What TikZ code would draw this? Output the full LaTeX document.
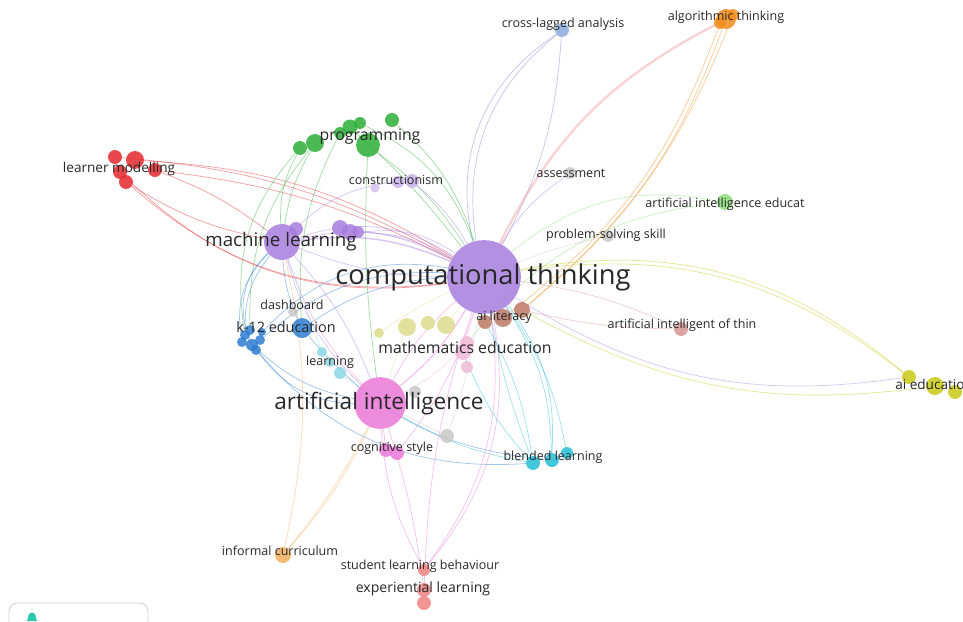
\documentclass[tikz,border=0pt]{standalone}
\usepackage{fontspec}
\setmainfont{Open Sans}
\usetikzlibrary{positioning}
\pgfdeclarelayer{edges}
\pgfsetlayers{edges,main}
\definecolor{cPurple}{RGB}{168,125,222}
\definecolor{cPink}{RGB}{235,120,215}
\definecolor{cRed}{RGB}{228,40,45}
\definecolor{cGreen}{RGB}{45,175,55}
\definecolor{cBlue}{RGB}{45,125,210}
\definecolor{cCyan}{RGB}{35,190,215}
\definecolor{cLcyan}{RGB}{140,215,230}
\definecolor{cLyellow}{RGB}{220,220,140}
\definecolor{cYellow}{RGB}{200,200,20}
\definecolor{cBrown}{RGB}{190,120,100}
\definecolor{cLpink}{RGB}{240,185,215}
\definecolor{cGrey}{RGB}{200,200,200}
\definecolor{cLblue}{RGB}{140,170,222}
\definecolor{cOrange}{RGB}{242,140,30}
\definecolor{cLorange}{RGB}{240,175,95}
\definecolor{cLgreen}{RGB}{140,220,120}
\definecolor{cRose}{RGB}{212,150,150}
\definecolor{cSalmon}{RGB}{240,130,130}
\definecolor{cTxt}{RGB}{40,40,40}
\definecolor{cTeal}{RGB}{40,200,170}
\tikzstyle{kw} = [circle, inner sep=0pt, fill opacity=0.85]
\tikzstyle{dia} = [minimum size=#1*0.85pt]
\tikzstyle{link} = [line width=0.6pt, draw opacity=0.45]
\tikzstyle{term} = [inner sep=0pt, text=cTxt, font=\fontsize{10.7}{11}\selectfont]
\tikzstyle{termbig} = [inner sep=0pt, text=cTxt, font=\fontsize{13.5}{14}\selectfont]

\begin{document}
\begin{tikzpicture}[x=0.03cm, y=-0.03cm]
\useasboundingbox (0,0) rectangle (963,621);
% purple cluster
\node[kw, fill=cPurple, dia=74] (ct) at (484,277) {};
\node[kw, fill=cPurple, dia=36] (ml) at (282,242) {};
\node[kw, fill=cPurple, dia=14] (ml2) at (296,229) {};
\node[kw, fill=cPurple, dia=16] (mlb) at (340,228) {};
\node[kw, fill=cPurple, dia=16] (mlc) at (350,232) {};
\node[kw, fill=cPurple, dia=12] (mld) at (358,232) {};
\node[kw, fill=cPurple!60, dia=14] (cons) at (412,181) {};
\node[kw, fill=cPurple!60, dia=12] (cons2) at (398,182) {};
\node[kw, fill=cPurple!50, dia=9] (cons3) at (375,188) {};
% pink cluster
\node[kw, fill=cPink, dia=52] (ai) at (380,403) {};
\node[kw, fill=cPink, dia=14] (cog) at (386,450) {};
\node[kw, fill=cPink, dia=14] (cog2) at (397,453) {};
% red cluster
\node[kw, fill=cRed, dia=14] (lm1) at (115,157) {};
\node[kw, fill=cRed, dia=18] (lm2) at (135,160) {};
\node[kw, fill=cRed, dia=14] (lm3) at (120,172) {};
\node[kw, fill=cRed, dia=14] (lm4) at (126,182) {};
\node[kw, fill=cRed, dia=14] (lm5) at (155,170) {};
% green cluster
\node[kw, fill=cGreen, dia=14] (pr1) at (300,148) {};
\node[kw, fill=cGreen, dia=18] (pr2) at (315,143) {};
\node[kw, fill=cGreen, dia=12] (pr3) at (340,133) {};
\node[kw, fill=cGreen, dia=15] (pr4) at (350,127) {};
\node[kw, fill=cGreen, dia=12] (pr5) at (360,123) {};
\node[kw, fill=cGreen, dia=24] (pr6) at (368,145) {};
\node[kw, fill=cGreen, dia=14] (pr7) at (392,120) {};
% blue cluster
\node[kw, fill=cBlue, dia=10] (k1) at (245,335) {};
\node[kw, fill=cBlue, dia=12] (k2) at (252,345) {};
\node[kw, fill=cBlue, dia=10] (k3) at (260,340) {};
\node[kw, fill=cBlue, dia=10] (k4) at (250,330) {};
\node[kw, fill=cBlue, dia=8] (k5) at (262,332) {};
\node[kw, fill=cBlue, dia=10] (k6) at (242,342) {};
\node[kw, fill=cBlue, dia=10] (k7) at (256,350) {};
\node[kw, fill=cBlue, dia=20] (k12) at (302,328) {};
% grey nodes
\node[kw, fill=cGrey, dia=10] (dash) at (293,312) {};
\node[kw, fill=cGrey, dia=12] (ps) at (608,236) {};
\node[kw, fill=cGrey, dia=12] (asm) at (570,173) {};
\node[kw, fill=cGrey, dia=12] (g1) at (415,392) {};
\node[kw, fill=cGrey, dia=14] (g2) at (447,436) {};
% cyan clusters
\node[kw, fill=cLcyan, dia=10] (lr1) at (322,352) {};
\node[kw, fill=cLcyan, dia=10] (lr2) at (330,362) {};
\node[kw, fill=cLcyan, dia=12] (lr3) at (340,373) {};
\node[kw, fill=cCyan, dia=14] (bl1) at (533,463) {};
\node[kw, fill=cCyan, dia=14] (bl2) at (552,460) {};
\node[kw, fill=cCyan, dia=12] (bl3) at (567,453) {};
% yellow, brown, light pink
\node[kw, fill=cLyellow, dia=10] (y1) at (379,333) {};
\node[kw, fill=cLyellow, dia=18] (y2) at (407,327) {};
\node[kw, fill=cLyellow, dia=14] (y3) at (428,323) {};
\node[kw, fill=cLyellow, dia=18] (y4) at (446,325) {};
\node[kw, fill=cBrown, dia=14] (al1) at (485,322) {};
\node[kw, fill=cBrown, dia=18] (al2) at (503,318) {};
\node[kw, fill=cBrown, dia=16] (al3) at (522,310) {};
\node[kw, fill=cLpink, dia=16] (me1) at (463,352) {};
\node[kw, fill=cLpink, dia=14] (me2) at (467,343) {};
\node[kw, fill=cLpink, dia=12] (me3) at (467,367) {};
\node[kw, fill=cYellow, dia=14] (ae1) at (909,377) {};
\node[kw, fill=cYellow, dia=18] (ae2) at (935,386) {};
\node[kw, fill=cYellow, dia=14] (ae3) at (955,392) {};
% single terms
\node[kw, fill=cLblue, dia=14] (cl) at (562,30) {};
\node[kw, fill=cOrange, dia=12] (at2) at (720,23) {};
\node[kw, fill=cOrange, dia=12] (at3) at (733,15) {};
\node[kw, fill=cOrange, dia=20] (at) at (726,19) {};
\node[kw, fill=cLgreen, dia=16] (aie) at (725,202) {};
\node[kw, fill=cRose, dia=14] (ait) at (681,329) {};
\node[kw, fill=cLorange, dia=16] (ic) at (283,555) {};
\node[kw, fill=cSalmon, dia=12] (slb) at (424,570) {};
\node[kw, fill=cSalmon, dia=14] (el) at (424,590) {};
\node[kw, fill=cSalmon, dia=14] (el2) at (424,603) {};

% labels
\node[term, font=\fontsize{23.3}{24}\selectfont] (t-ct) at (483,277) {computational thinking};
\node[term, font=\fontsize{19.3}{20}\selectfont] (t-ai) at (379,404) {artificial intelligence};
\node[term, font=\fontsize{16}{17}\selectfont] (t-ml) at (281,242) {machine learning};
\node[termbig] (t-pr) at (370,137) {programming};
\node[termbig] (t-me) at (465,348) {mathematics education};
\node[term, font=\fontsize{12.3}{13}\selectfont] (t-k12) at (286,327) {k-12 education};
\node[term, font=\fontsize{11.6}{12}\selectfont] (t-lm) at (119,169) {learner modelling};
\node[term] (t-cons) at (396,180) {constructionism};
\node[term] (t-cl) at (563,24) {cross-lagged analysis};
\node[term] (t-at) at (726,17) {algorithmic thinking};
\node[term] (t-asm) at (571,173) {assessment};
\node[term] (t-aie) at (725,204) {artificial intelligence educat};
\node[term] (t-ps) at (606,235) {problem-solving skill};
\node[term] (t-dash) at (292,305) {dashboard};
\node[term] (t-al) at (504,317) {ai literacy};
\node[term] (t-lr) at (330,362) {learning};
\node[term] (t-ait) at (682,325) {artificial intelligent of thin};
\node[term, anchor=west, font=\fontsize{11.6}{12}\selectfont] (t-ae) at (895,384) {ai education};
\node[term] (t-cog) at (392,448) {cognitive style};
\node[term] (t-bl) at (553,457) {blended learning};
\node[term] (t-ic) at (280,551) {informal curriculum};
\node[term] (t-slb) at (420,566) {student learning behaviour};
\node[term, font=\fontsize{12}{13}\selectfont] (t-el) at (423,589) {experiential learning};

% corner box
\draw[cGrey!80, line width=0.8pt, rounded corners=7pt] (9,603) rectangle (148,650);
\fill[cTeal] (27,621) -- (29,614) to[bend left=60] (35,614) -- (37,621) -- cycle;

\begin{pgfonlayer}{edges}
\fill[white] (0,0) rectangle (963,621);
% computational thinking
\draw[link, cPurple!60!cBlue] (ct) to[bend left=35] (cl);
\draw[link, cPurple!60!cBlue] (ct) to[bend left=30] (cl);
\draw[link, cPurple!60!cBlue] (ct) to[bend right=12] (cl);
\draw[link, cSalmon, line width=2pt, draw opacity=0.35] (ct) to[bend left=18] (at);
\draw[link, cOrange] (at) to[bend left=15] (al3);
\draw[link, cOrange] (at2) to[bend left=16] (al2);
\draw[link, cOrange] (at3) to[bend left=14] (al3);
\draw[link, cPurple] (ct) to[bend left=12] (asm);
\draw[link, cGrey] (ct) to[bend left=5] (ps);
\draw[link, cLgreen] (ct) to[bend left=25] (aie);
\draw[link, cLgreen] (me2) to[bend left=22] (aie);
\draw[link, cRose] (ct) to[bend left=8] (ait);
\draw[link, cRose] (al3) to[bend right=6] (ait);
\draw[link, cYellow] (ct) to[bend left=25] (ae1);
\draw[link, cYellow] (ct) to[bend left=23] (ae1);
\draw[link, cYellow] (al3) to[bend right=18] (ae2);
\draw[link, cPurple] (ct) to[bend right=20] (ae1);
% blended learning
\draw[link, cCyan] (ct) to[bend left=12] (bl3);
\draw[link, cCyan] (ct) to[bend left=20] (bl2);
\draw[link, cCyan] (ct) to[bend left=16] (bl2);
\draw[link, cCyan] (ct) to[bend right=5] (bl1);
\draw[link, cCyan] (al1) to[bend left=10] (bl1);
\draw[link, cCyan] (me1) to[bend right=10] (bl1);
\draw[link, cCyan] (ai) to[bend right=10] (bl1);
\draw[link, cBlue] (k1) to[bend right=28] (bl1);
\draw[link, cBlue] (k12) to[bend right=22] (bl2);
% learner modelling
\draw[link, cRed] (lm2) to[bend left=14] (ct);
\draw[link, cRed] (lm1) to[bend left=12] (ct);
\draw[link, cRed] (lm5) to[bend left=10] (ct);
\draw[link, cRed] (lm4) to[bend right=24] (ct);
\draw[link, cRed] (lm3) to[bend right=26] (ct);
\draw[link, cRed] (lm5) to[bend left=8] (ml);
\draw[link, cRed] (lm4) to[bend right=10] (ml);
% programming
\draw[link, cGreen] (pr1) to[bend right=15] (ml);
\draw[link, cGreen] (pr2) to[bend right=10] (ml);
\draw[link, cGreen] (pr6) to[bend left=10] (ct);
\draw[link, cGreen] (pr7) to[bend left=15] (ct);
\draw[link, cGreen] (pr5) to[bend left=22] (ct);
\draw[link, cGreen] (pr4) to[bend left=5] (ct);
\draw[link, cGreen] (pr1) to[bend right=25] (k1);
\draw[link, cGreen] (pr2) to[bend right=20] (k4);
\draw[link, cGreen] (pr6) to[bend right=5] (ai);
\draw[link, cGreen] (pr3) to[bend right=15] (k12);
% machine learning
\draw[link, cPurple, line width=1.2pt] (ml) to[bend left=15] (ct);
\draw[link, cPurple] (ml) to[bend left=25] (ct);
\draw[link, cPurple] (ml) to[bend left=20] (ct);
\draw[link, cPurple] (ml) to[bend right=10] (ct);
\draw[link, cPurple] (mlb) to[bend left=10] (ct);
\draw[link, cPurple] (mlc) to[bend left=14] (ct);
\draw[link, cPurple] (mld) to[bend left=20] (ct);
\draw[link, cBlue] (ml) to[bend right=20] (k1);
\draw[link, cBlue] (ml) to[bend right=10] (k12);
\draw[link, cBlue] (ml) to[bend right=35] (k2);
\draw[link, cBlue] (ml) to[bend right=28] (k6);
\draw[link, cPurple] (ml) to[bend right=15] (ai);
\draw[link, cPurple] (ml) to[bend left=10] (ai);
\draw[link, cPurple] (ml) to[bend left=20] (cons);
\draw[link, cPurple] (cons) to[bend left=10] (ct);
% k-12 education
\draw[link, cBlue] (k12) to[bend left=15] (ct);
\draw[link, cBlue] (k3) to[bend left=22] (ct);
\draw[link, cBlue] (k5) to[bend left=28] (ct);
\draw[link, cBlue] (k2) to[bend right=15] (ai);
\draw[link, cBlue] (k7) to[bend right=25] (ai);
\draw[link, cGrey] (dash) to (k12);
% artificial intelligence
\draw[link, cPink, line width=1pt] (ai) to[bend right=10] (ct);
\draw[link, cPink] (ai) to[bend left=10] (ct);
\draw[link, cPink] (ai) to (cog);
\draw[link, cPink] (ai) to[bend left=12] (ml);
\draw[link, cLorange] (ic) to[bend right=8] (ai);
\draw[link, cLorange] (ic) to[bend right=6] (ai);
\draw[link, cLorange] (ic) to[bend right=12] (ml);
\draw[link, cPink] (el) to[bend right=5] (ai);
\draw[link, cPink] (el) to[bend left=8] (ct);
\draw[link, cPink] (slb) to[bend right=25] (ct);
\draw[link, cPink] (slb) to[bend right=22] (ct);
\draw[link, cPink] (slb) to[bend left=12] (ai);
% small terms
\draw[link, cLpink] (me1) to (ct);
\draw[link, cLpink] (me2) to[bend left=10] (ai);
\draw[link, cLyellow] (y1) to[bend left=5] (ct);
\draw[link, cLyellow] (y4) to (ct);
\draw[link, cLyellow] (y2) to (ai);
\draw[link, cBrown] (al1) to (ct);
\draw[link, cBrown] (al2) to (ct);
\draw[link, cGrey] (g1) to (ai);
\draw[link, cGrey] (g2) to (ai);
\draw[link, cGrey] (g2) to[bend right=5] (ct);
\draw[link, cLcyan] (lr3) to (ai);
\draw[link, cLcyan] (lr1) to (ml);
\draw[link, cPink] (cog2) to[bend right=10] (ct);
\end{pgfonlayer}
\end{tikzpicture}
\end{document}
